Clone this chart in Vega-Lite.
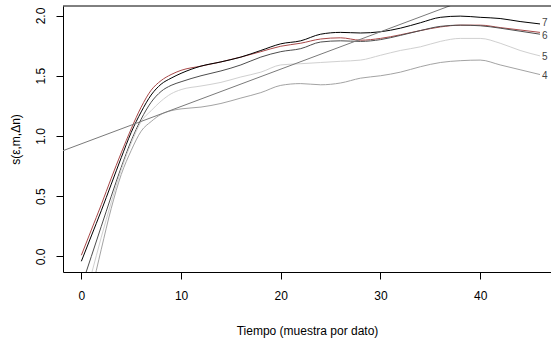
{
  "$schema": "https://vega.github.io/schema/vega-lite/v6.json",
  "width": 488,
  "height": 266,
  "autosize": {"type": "none"},
  "padding": {"left": 63, "top": 6, "right": 0, "bottom": 69},
  "background": "white",
  "config": {
    "view": {"stroke": null},
    "font": "Liberation Sans Narrow, Liberation Sans, Arial, sans-serif",
    "axis": {"grid": false, "domainColor": "black", "tickColor": "black", "labelColor": "black", "titleColor": "black", "titleFontWeight": "normal", "labelFont": "Liberation Sans Narrow, Liberation Sans, Arial, sans-serif", "titleFont": "Liberation Sans Narrow, Liberation Sans, Arial, sans-serif"}
  },
  "datasets": {
    "curvas": [
      {"t": 0, "s": 0.01, "serie": "r"}, {"t": 1, "s": 0.22, "serie": "r"}, {"t": 2, "s": 0.43, "serie": "r"}, {"t": 3, "s": 0.65, "serie": "r"}, {"t": 4, "s": 0.86, "serie": "r"}, {"t": 5, "s": 1.06, "serie": "r"}, {"t": 6, "s": 1.24, "serie": "r"}, {"t": 7, "s": 1.38, "serie": "r"}, {"t": 8, "s": 1.46, "serie": "r"}, {"t": 9, "s": 1.51, "serie": "r"}, {"t": 10, "s": 1.545, "serie": "r"}, {"t": 12, "s": 1.58, "serie": "r"}, {"t": 14, "s": 1.615, "serie": "r"}, {"t": 16, "s": 1.655, "serie": "r"}, {"t": 18, "s": 1.7, "serie": "r"}, {"t": 20, "s": 1.745, "serie": "r"}, {"t": 22, "s": 1.77, "serie": "r"}, {"t": 24, "s": 1.805, "serie": "r"}, {"t": 26, "s": 1.815, "serie": "r"}, {"t": 28, "s": 1.795, "serie": "r"}, {"t": 30, "s": 1.81, "serie": "r"}, {"t": 32, "s": 1.84, "serie": "r"}, {"t": 34, "s": 1.875, "serie": "r"}, {"t": 36, "s": 1.905, "serie": "r"}, {"t": 38, "s": 1.92, "serie": "r"}, {"t": 40, "s": 1.92, "serie": "r"}, {"t": 42, "s": 1.9, "serie": "r"}, {"t": 44, "s": 1.88, "serie": "r"}, {"t": 46, "s": 1.86, "serie": "r"},

      {"t": 0, "s": -0.04, "serie": "7"}, {"t": 1, "s": 0.17, "serie": "7"}, {"t": 2, "s": 0.38, "serie": "7"}, {"t": 3, "s": 0.6, "serie": "7"}, {"t": 4, "s": 0.82, "serie": "7"}, {"t": 5, "s": 1.03, "serie": "7"}, {"t": 6, "s": 1.2, "serie": "7"}, {"t": 7, "s": 1.34, "serie": "7"}, {"t": 8, "s": 1.43, "serie": "7"}, {"t": 9, "s": 1.48, "serie": "7"}, {"t": 10, "s": 1.52, "serie": "7"}, {"t": 12, "s": 1.58, "serie": "7"}, {"t": 14, "s": 1.615, "serie": "7"}, {"t": 16, "s": 1.655, "serie": "7"}, {"t": 18, "s": 1.71, "serie": "7"}, {"t": 20, "s": 1.765, "serie": "7"}, {"t": 22, "s": 1.79, "serie": "7"}, {"t": 24, "s": 1.845, "serie": "7"}, {"t": 26, "s": 1.86, "serie": "7"}, {"t": 28, "s": 1.855, "serie": "7"}, {"t": 30, "s": 1.865, "serie": "7"}, {"t": 32, "s": 1.895, "serie": "7"}, {"t": 34, "s": 1.94, "serie": "7"}, {"t": 36, "s": 1.985, "serie": "7"}, {"t": 38, "s": 1.995, "serie": "7"}, {"t": 40, "s": 1.985, "serie": "7"}, {"t": 42, "s": 1.975, "serie": "7"}, {"t": 44, "s": 1.95, "serie": "7"}, {"t": 46, "s": 1.93, "serie": "7"},

      {"t": 0, "s": -0.25, "serie": "6"}, {"t": 1, "s": 0.0, "serie": "6"}, {"t": 2, "s": 0.25, "serie": "6"}, {"t": 3, "s": 0.5, "serie": "6"}, {"t": 4, "s": 0.74, "serie": "6"}, {"t": 5, "s": 0.96, "serie": "6"}, {"t": 6, "s": 1.14, "serie": "6"}, {"t": 7, "s": 1.28, "serie": "6"}, {"t": 8, "s": 1.37, "serie": "6"}, {"t": 9, "s": 1.42, "serie": "6"}, {"t": 10, "s": 1.45, "serie": "6"}, {"t": 12, "s": 1.5, "serie": "6"}, {"t": 14, "s": 1.54, "serie": "6"}, {"t": 16, "s": 1.59, "serie": "6"}, {"t": 18, "s": 1.655, "serie": "6"}, {"t": 20, "s": 1.7, "serie": "6"}, {"t": 22, "s": 1.725, "serie": "6"}, {"t": 24, "s": 1.78, "serie": "6"}, {"t": 26, "s": 1.79, "serie": "6"}, {"t": 28, "s": 1.785, "serie": "6"}, {"t": 30, "s": 1.8, "serie": "6"}, {"t": 32, "s": 1.835, "serie": "6"}, {"t": 34, "s": 1.875, "serie": "6"}, {"t": 36, "s": 1.91, "serie": "6"}, {"t": 38, "s": 1.92, "serie": "6"}, {"t": 40, "s": 1.915, "serie": "6"}, {"t": 42, "s": 1.895, "serie": "6"}, {"t": 44, "s": 1.87, "serie": "6"}, {"t": 46, "s": 1.845, "serie": "6"},

      {"t": 0, "s": -0.45, "serie": "5"}, {"t": 1, "s": -0.15, "serie": "5"}, {"t": 2, "s": 0.16, "serie": "5"}, {"t": 3, "s": 0.45, "serie": "5"}, {"t": 4, "s": 0.72, "serie": "5"}, {"t": 5, "s": 0.94, "serie": "5"}, {"t": 6, "s": 1.12, "serie": "5"}, {"t": 7, "s": 1.21, "serie": "5"}, {"t": 8, "s": 1.29, "serie": "5"}, {"t": 9, "s": 1.35, "serie": "5"}, {"t": 10, "s": 1.385, "serie": "5"}, {"t": 12, "s": 1.415, "serie": "5"}, {"t": 14, "s": 1.445, "serie": "5"}, {"t": 16, "s": 1.49, "serie": "5"}, {"t": 18, "s": 1.53, "serie": "5"}, {"t": 20, "s": 1.59, "serie": "5"}, {"t": 22, "s": 1.6, "serie": "5"}, {"t": 24, "s": 1.61, "serie": "5"}, {"t": 26, "s": 1.62, "serie": "5"}, {"t": 28, "s": 1.63, "serie": "5"}, {"t": 30, "s": 1.67, "serie": "5"}, {"t": 32, "s": 1.71, "serie": "5"}, {"t": 34, "s": 1.74, "serie": "5"}, {"t": 36, "s": 1.785, "serie": "5"}, {"t": 38, "s": 1.81, "serie": "5"}, {"t": 40, "s": 1.81, "serie": "5"}, {"t": 42, "s": 1.77, "serie": "5"}, {"t": 44, "s": 1.71, "serie": "5"}, {"t": 46, "s": 1.665, "serie": "5"},

      {"t": 0, "s": -0.7, "serie": "4"}, {"t": 1, "s": -0.3, "serie": "4"}, {"t": 2, "s": 0.06, "serie": "4"}, {"t": 3, "s": 0.4, "serie": "4"}, {"t": 4, "s": 0.68, "serie": "4"}, {"t": 5, "s": 0.88, "serie": "4"}, {"t": 6, "s": 1.04, "serie": "4"}, {"t": 7, "s": 1.12, "serie": "4"}, {"t": 8, "s": 1.18, "serie": "4"}, {"t": 9, "s": 1.21, "serie": "4"}, {"t": 10, "s": 1.225, "serie": "4"}, {"t": 12, "s": 1.24, "serie": "4"}, {"t": 14, "s": 1.27, "serie": "4"}, {"t": 16, "s": 1.315, "serie": "4"}, {"t": 18, "s": 1.36, "serie": "4"}, {"t": 20, "s": 1.42, "serie": "4"}, {"t": 22, "s": 1.435, "serie": "4"}, {"t": 24, "s": 1.425, "serie": "4"}, {"t": 26, "s": 1.44, "serie": "4"}, {"t": 28, "s": 1.48, "serie": "4"}, {"t": 30, "s": 1.5, "serie": "4"}, {"t": 32, "s": 1.53, "serie": "4"}, {"t": 34, "s": 1.575, "serie": "4"}, {"t": 36, "s": 1.61, "serie": "4"}, {"t": 38, "s": 1.625, "serie": "4"}, {"t": 40, "s": 1.63, "serie": "4"}, {"t": 42, "s": 1.59, "serie": "4"}, {"t": 44, "s": 1.55, "serie": "4"}, {"t": 46, "s": 1.51, "serie": "4"},

      {"t": -1.84, "s": 0.878, "serie": "recta"}, {"t": 47.1, "s": 2.395, "serie": "recta"}
    ],
    "etiquetas": [
      {"t": 46, "s": 1.935, "label": "7"},
      {"t": 46, "s": 1.832, "label": "6"},
      {"t": 46, "s": 1.658, "label": "5"},
      {"t": 46, "s": 1.498, "label": "4"}
    ],
    "borde": [{"s": 2.079}]
  },
  "layer": [
    {
      "data": {"name": "curvas"},
      "mark": {"type": "line", "clip": true, "strokeWidth": 1, "interpolate": "monotone"},
      "encoding": {
        "x": {"field": "t", "type": "quantitative",
              "scale": {"domain": [-1.84, 47.1], "nice": false, "zero": false},
              "axis": {"values": [0, 10, 20, 30, 40], "title": "Tiempo (muestra por dato)", "tickSize": 7, "labelPadding": 11, "labelFontSize": 12, "titleFontSize": 12, "titlePadding": 24, "domainWidth": 1, "labelFlush": false}},
        "y": {"field": "s", "type": "quantitative",
              "scale": {"domain": [-0.129, 2.079], "nice": false, "zero": false},
              "axis": {"values": [0, 0.5, 1, 1.5, 2], "format": ".1f", "title": "s(ε,m,Δn)", "tickSize": 7, "labelAngle": -90, "labelAlign": "center", "labelBaseline": "bottom", "labelPadding": 9, "labelFontSize": 12, "titleFontSize": 12, "titlePadding": 12, "labelFont": "Liberation Sans, Arial, sans-serif", "titleFont": "Liberation Sans, Arial, sans-serif"}},
        "color": {"field": "serie", "type": "nominal",
                  "scale": {"domain": ["4", "5", "recta", "6", "7", "r"], "range": ["#a3a3a3", "#d0d0d0", "#7a7a7a", "#4d4d4d", "#000000", "#a84848"]},
                  "legend": null},
        "order": {"field": "t", "type": "quantitative"}
      }
    },
    {
      "data": {"name": "borde"},
      "mark": {"type": "rule", "color": "black", "strokeWidth": 1},
      "encoding": {"y": {"field": "s", "type": "quantitative"}}
    },
    {
      "data": {"name": "etiquetas"},
      "mark": {"type": "text", "align": "left", "baseline": "middle", "dx": 2, "fontSize": 10, "color": "#444444"},
      "encoding": {
        "x": {"field": "t", "type": "quantitative"},
        "y": {"field": "s", "type": "quantitative"},
        "text": {"field": "label"}
      }
    }
  ]
}
